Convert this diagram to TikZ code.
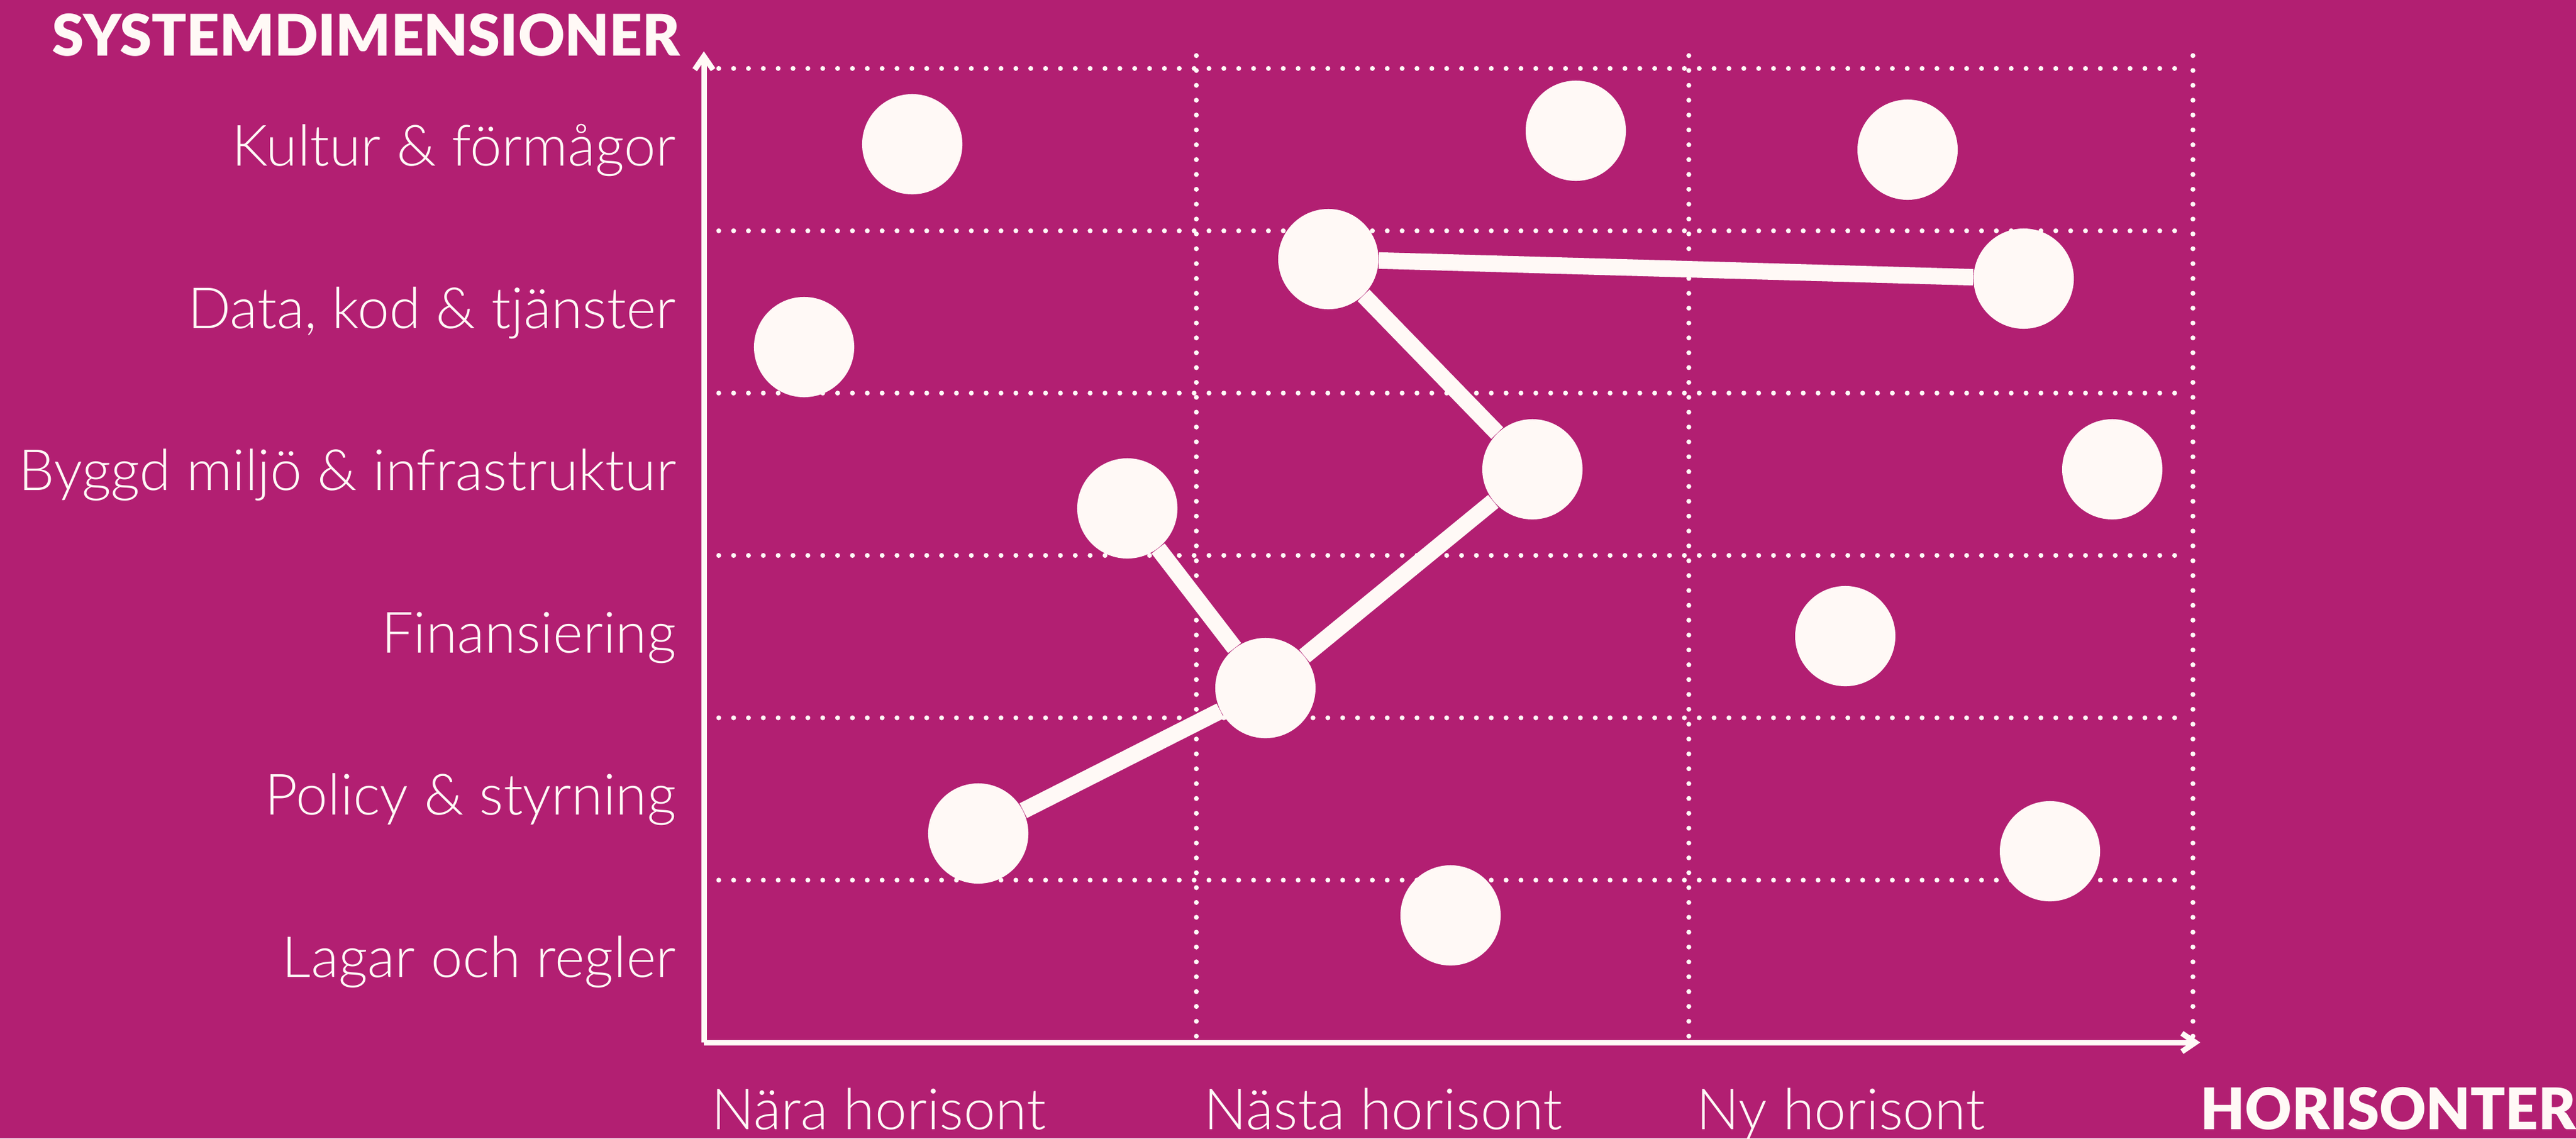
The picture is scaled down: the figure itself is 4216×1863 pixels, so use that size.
\documentclass[tikz,border=0pt]{standalone}
\usepackage{fontspec}
\setmainfont{Lato Light}
\newfontfamily\heavyfont{Lato Black}
\usetikzlibrary{arrows.meta}
\definecolor{bgmag}{HTML}{B21F72}
\definecolor{offw}{HTML}{FFF9F6}
\begin{document}
\begin{tikzpicture}[x=0.01cm,y=-0.01cm,
  lbl/.style={font=\fontsize{26.5}{31}\selectfont, text=offw, inner sep=0pt},
  head/.style={font=\heavyfont\fontsize{26.7}{32}\selectfont, text=offw, inner sep=0pt},
  gridline/.style={draw=offw, line width=0.08cm, line cap=round, dash pattern=on 0pt off 0.243cm},
  axisline/.style={draw=offw, line width=0.09cm},
  conn/.style={draw=offw, line width=0.27cm},
  dot/.style={circle, fill=offw, minimum size=1.64cm, inner sep=0pt}]
\useasboundingbox (0,0) rectangle (4216,1863);
\fill[bgmag] (0,0) rectangle (4216,1863);
% grid
\foreach \y in {112,377.7,643.3,909,1174.7,1440.3}
  \draw[gridline] (1152,\y) -- (3565,\y);
\foreach \x in {1958,2764}
  \draw[gridline] (\x,91) -- (\x,1720);
\draw[gridline] (3589,91) -- (3589,1706);
% axes
\coordinate (o) at (1152,1706);
\coordinate (ytip) at (1152,84);
\coordinate (xtip) at (3601,1706);
\draw[axisline, -{Straight Barb[length=0.22cm,width=0.30cm]}] (o) -- (ytip);
\draw[axisline, -{Straight Barb[length=0.22cm,width=0.30cm]}] (o) -- (xtip);
% titles
\node[head, anchor=base west] (ttl) at (85,91) {SYSTEMDIMENSIONER};
\node[head, anchor=base west] (htl) at (3601,1848) {HORISONTER};
% row labels
\node[lbl, anchor=base east] (r1) at (1107,271) {Kultur \& förmågor};
\node[lbl, anchor=base east] (r2) at (1107,537) {Data, kod \& tjänster};
\node[lbl, anchor=base east] (r3) at (1107,802) {Byggd miljö \& infrastruktur};
\node[lbl, anchor=base east] (r4) at (1107,1068) {Finansiering};
\node[lbl, anchor=base east] (r5) at (1107,1333) {Policy \& styrning};
\node[lbl, anchor=base east] (r6) at (1107,1599) {Lagar och regler};
% column labels
\node[lbl, anchor=base west] (h1) at (1164,1848) {Nära horisont};
\node[lbl, anchor=base west] (h2) at (1970,1848) {Nästa horisont};
\node[lbl, anchor=base west] (h3) at (2776,1848) {Ny horisont};
% circles
\node[dot] (c1) at (1493,236) {};
\node[dot] (c2) at (2579,214) {};
\node[dot] (c3) at (3122,245) {};
\node[dot] (c4) at (2174,424) {};
\node[dot] (c5) at (3312,456) {};
\node[dot] (c6) at (1316,568) {};
\node[dot] (c7) at (2508,768) {};
\node[dot] (c8) at (3457,768) {};
\node[dot] (c9) at (1845,832) {};
\node[dot] (c10) at (3020,1041) {};
\node[dot] (c11) at (2071,1126) {};
\node[dot] (c12) at (1601,1364) {};
\node[dot] (c13) at (3355,1393) {};
\node[dot] (c14) at (2374,1498) {};
% connectors
\draw[conn] (c12) -- (c11);
\draw[conn] (c11) -- (c7);
\draw[conn] (c7) -- (c4);
\draw[conn] (c4) -- (c5);
\draw[conn] (c9) -- (c11);
\end{tikzpicture}
\end{document}
